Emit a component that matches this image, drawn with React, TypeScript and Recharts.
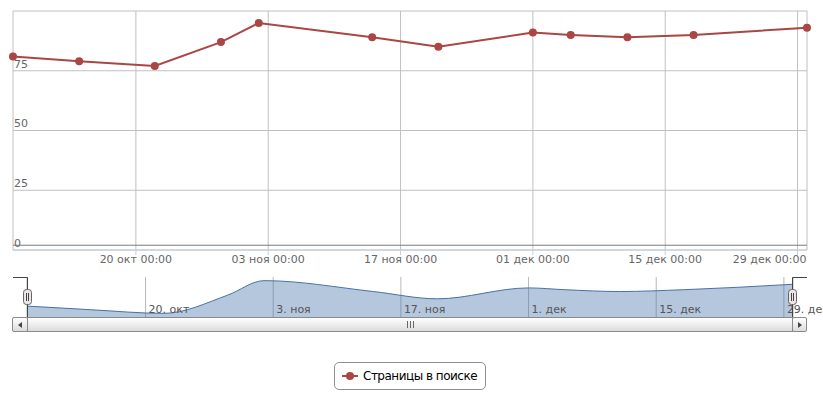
import React from "react";
import {
  LineChart,
  Line,
  AreaChart,
  Area,
  XAxis,
  YAxis,
  CartesianGrid,
  ReferenceLine,
  Legend,
} from "recharts";

// values (pages in search index)
const pointDates = [
  "2013-10-07", "2013-10-14", "2013-10-22", "2013-10-29", "2013-11-02", "2013-11-14",
  "2013-11-21", "2013-12-01", "2013-12-05", "2013-12-11", "2013-12-18", "2013-12-30",
];
const pages = [81, 79, 77, 87, 95, 89, 85, 91, 90, 89, 90, 93];
const tickDates = ["2013-10-20", "2013-11-03", "2013-11-17", "2013-12-01", "2013-12-15", "2013-12-29"];
const yTicks = [0, 25, 50, 75, 100];
const months = ["янв", "фев", "мар", "апр", "май", "июн", "июл", "авг", "сен", "окт", "ноя", "дек"];
const seriesName = "Страницы в поиске";

const FONT = '"DejaVu Sans", Verdana, sans-serif';
const RED = "#AA4643";
const BLUE = "#4572A7";

const toTime = (s: string) => Date.parse(s + "T00:00:00Z");
const data = pointDates.map((d, i) => ({ t: toTime(d), value: pages[i] }));
const xTicks = tickDates.map(toTime);
const xDomain = [data[0].t, data[data.length - 1].t];

const pad = (n: number) => (n < 10 ? "0" + n : "" + n);
const fmtMain = (t: number) => {
  const d = new Date(t);
  return `${pad(d.getUTCDate())} ${months[d.getUTCMonth()]} 00:00`;
};
const fmtNav = (t: number) => {
  const d = new Date(t);
  return `${d.getUTCDate()}. ${months[d.getUTCMonth()]}`;
};

// last label is pulled inside the plot like highstock does
const renderXTick = (p: any) => {
  const last = p.payload.value === xTicks[xTicks.length - 1];
  return (
    <text
      x={last ? p.x + 9 : p.x}
      y={p.y + 8}
      fill="#666"
      fontSize={11}
      fontFamily={FONT}
      textAnchor={last ? "end" : "middle"}
    >
      {fmtMain(p.payload.value)}
    </text>
  );
};

const renderNavTick = (p: any) => (
  <text x={p.x + 3} y={36} fill="#555" fontSize={11} fontFamily={FONT} textAnchor="start">
    {fmtNav(p.payload.value)}
  </text>
);

function LegendBox(props: any) {
  const item = (props.payload || [])[0];
  if (!item) return null;
  return (
    <div
      style={{
        boxSizing: "border-box",
        width: 152,
        height: 28,
        border: "1px solid #909090",
        borderRadius: 5,
        background: "#fff",
        display: "flex",
        alignItems: "center",
        paddingLeft: 7,
        fontFamily: FONT,
        fontSize: 12,
        letterSpacing: -0.5,
        color: "#000",
        whiteSpace: "nowrap",
      }}
    >
      <svg width={16} height={10} style={{ marginRight: 5, flex: "none" }}>
        <line x1={0} y1={5} x2={16} y2={5} stroke={item.color} strokeWidth={2} />
        <circle cx={8} cy={5} r={4} fill={item.color} />
      </svg>
      <span>{item.value}</span>
    </div>
  );
}

const btn: React.CSSProperties = {
  position: "absolute",
  top: 317,
  height: 15,
  boxSizing: "border-box",
  border: "1px solid #8a8a8a",
  borderRadius: 2,
  background: "linear-gradient(#ffffff, #dcdcdc)",
};

export default function App() {
  return (
    <div style={{ position: "absolute", left: 0, top: 0, width: 823, height: 399, background: "#fff", fontFamily: FONT }}>
      <LineChart width={823} height={399} data={data} margin={{ top: 11, right: 16, bottom: 129, left: 13 }}>
        <CartesianGrid stroke="#C0C0C0" />
        <XAxis
          dataKey="t"
          type="number"
          scale="time"
          domain={xDomain}
          ticks={xTicks}
          interval={0}
          stroke="#C0D0E0"
          tickSize={5}
          tickMargin={0}
          height={20}
          tick={renderXTick}
        />
        <YAxis
          domain={[0, 100]}
          ticks={yTicks}
          width={1}
          mirror
          axisLine={false}
          tickLine={false}
          tickSize={0}
          tickMargin={1}
          tickFormatter={(v: number) => (v === 100 ? "" : String(v))}
          tick={{ fill: "#666", fontSize: 11, fontFamily: FONT, dy: -7 }}
        />
        <ReferenceLine y={2} stroke="#7a7a7a" strokeWidth={1} />
        <Legend
          verticalAlign="middle"
          align="center"
          layout="horizontal"
          wrapperStyle={{ top: 362, left: 334, width: 152 }}
          content={<LegendBox />}
        />
        <Line
          type="linear"
          dataKey="value"
          name={seriesName}
          stroke={RED}
          strokeWidth={2}
          dot={{ r: 4, fill: RED, stroke: RED, strokeWidth: 0 }}
          activeDot={false}
          isAnimationActive={false}
        />
      </LineChart>

      {/* navigator */}
      <div style={{ position: "absolute", left: 0, top: 277 }}>
        <AreaChart width={823} height={41} data={data} margin={{ top: 0, right: 30, bottom: 0, left: 27 }}>
          <CartesianGrid horizontal={false} stroke="#B8B8B8" />
          <XAxis
            dataKey="t"
            type="number"
            scale="time"
            domain={xDomain}
            ticks={xTicks}
            interval={0}
            height={1}
            axisLine={false}
            tickLine={false}
            tick={renderNavTick}
          />
          <YAxis hide domain={[75, 97]} />
          <Area
            type="monotone"
            dataKey="value"
            stroke={BLUE}
            strokeWidth={1}
            fill={BLUE}
            fillOpacity={0.4}
            dot={false}
            activeDot={false}
            isAnimationActive={false}
          />
        </AreaChart>
      </div>

      {/* scrollbar */}
      <div style={{ ...btn, left: 27, width: 766, borderRadius: 0, display: "flex", justifyContent: "center", alignItems: "center" }}>
        <svg width={8} height={7}>
          <line x1={1.5} y1={0} x2={1.5} y2={7} stroke="#666" />
          <line x1={4.5} y1={0} x2={4.5} y2={7} stroke="#666" />
          <line x1={7.5} y1={0} x2={7.5} y2={7} stroke="#666" />
        </svg>
      </div>
      <div style={{ ...btn, left: 12, width: 16, display: "flex", justifyContent: "center", alignItems: "center" }}>
        <svg width={4} height={6}>
          <path d="M0 3 L4 0 L4 6 Z" fill="#444" />
        </svg>
      </div>
      <div style={{ ...btn, left: 792, width: 15, display: "flex", justifyContent: "center", alignItems: "center" }}>
        <svg width={4} height={6}>
          <path d="M4 3 L0 0 L0 6 Z" fill="#444" />
        </svg>
      </div>

      {/* navigator outline and handles */}
      <svg width={823} height={399} style={{ position: "absolute", left: 0, top: 0, pointerEvents: "none" }}>
        <path d="M13 277.5 H27.5 V317 M792.5 317 V277.5 H807" stroke="#444" fill="none" />
        <g>
          <rect x={23.5} y={289.5} width={8} height={15} rx={3} fill="#EBE7E8" stroke="#666" />
          <line x1={26.5} y1={293} x2={26.5} y2={301} stroke="#444" />
          <line x1={28.5} y1={293} x2={28.5} y2={301} stroke="#444" />
        </g>
        <g>
          <rect x={788.5} y={289.5} width={8} height={15} rx={3} fill="#EBE7E8" stroke="#666" />
          <line x1={791.5} y1={293} x2={791.5} y2={301} stroke="#444" />
          <line x1={793.5} y1={293} x2={793.5} y2={301} stroke="#444" />
        </g>
      </svg>
    </div>
  );
}
